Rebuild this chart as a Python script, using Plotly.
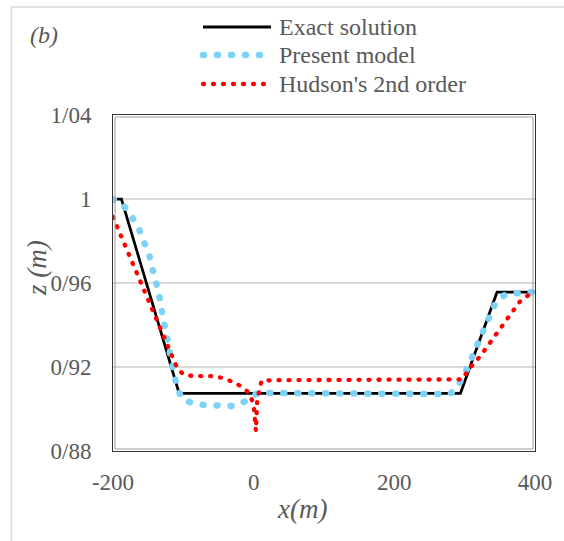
import plotly.graph_objects as go

# ---------------- data ----------------
x_exact = [-200, -188, -106, 294, 346, 400]
z_exact = [1.0, 1.0, 0.9075, 0.9075, 0.9556, 0.9556]

x_present = [-200, -184.4, -173.0, -163.0, -155.9, -148.8, -144.5, -138.9, -134.6,
             -131.8, -127.5, -123.3, -120.4, -117.5, -113.3, -109.0, -101.9, -84.8,
             -66.4, -47.9, -28.0, -10.9, 3.3, 23.2, 279, 289, 297.6, 306.2, 313.3,
             320.4, 327.5, 336.0, 344.6, 358.8, 375.8, 400]
z_present = [1.000, 0.9967, 0.9914, 0.9857, 0.9795, 0.9738, 0.9676, 0.9614, 0.9548,
             0.9486, 0.9424, 0.9357, 0.9295, 0.9233, 0.9171, 0.9105, 0.9048, 0.9024,
             0.9019, 0.9019, 0.9014, 0.9038, 0.9071, 0.9076, 0.9071, 0.9100, 0.9152,
             0.9210, 0.9271, 0.9329, 0.9390, 0.9452, 0.9510, 0.9548, 0.9552, 0.9557]

x_hudson = [-200, -108, -98.6, -85.3, -57.8, -44.6, -31.8, -19.4, -9.0, -2.4, 0.5, 3.2,
            5.1, 7.6, 11.3, 24.6, 290, 297, 305, 322, 346, 378, 393, 400]
z_hudson = [0.9914, 0.9189, 0.9162, 0.9157, 0.9156, 0.9148, 0.9132, 0.9111, 0.9084,
            0.9043, 0.8999, 0.8895, 0.9046, 0.9090, 0.9135, 0.9137, 0.9137, 0.9141,
            0.9186, 0.9251, 0.9362, 0.9510, 0.9548, 0.9557]

series_names = ["Exact solution", "Present model", "Hudson's 2nd order"]

x_ticks = [-200, 0, 200, 400]
x_ticktext = ["-200", "0", "200", "400"]
y_ticks = [0.88, 0.92, 0.96, 1.0, 1.04]
y_ticktext = ["0/88", "0/92", "0/96", "1", "1/04"]

panel_label = "(b)"
x_title = "x(m)"
y_title = "z (m)"

# ---------------- styles ----------------
FONT = "Liberation Serif"
TXT = "#595959"
BLACK = "#000000"
BLUE = "#7dd3f7"
RED = "#ff0000"
BLUE_DASH = "1px,13px"
RED_DASH = "1px,9px"

W, H = 564, 541
ML, MR, MT, MB = 113, 29, 115, 90
PW, PH = W - ML - MR, H - MT - MB


def px2paper_x(px):
    return (px - ML) / PW


def px2paper_y(py):
    return (H - MB - py) / PH


fig = go.Figure()
fig.add_trace(go.Scatter(x=x_exact, y=z_exact, mode="lines", name=series_names[0],
                         line=dict(color=BLACK, width=2.75), showlegend=False))
fig.add_trace(go.Scatter(x=x_present, y=z_present, mode="lines", name=series_names[1],
                         line=dict(color=BLUE, width=6.5, dash=BLUE_DASH), showlegend=False))
fig.add_trace(go.Scatter(x=x_hudson, y=z_hudson, mode="lines", name=series_names[2],
                         line=dict(color=RED, width=4.3, dash=RED_DASH), showlegend=False))

shapes = []
annotations = []

# outer chart border (light gray), extends beyond the image right/bottom
shapes.append(dict(type="rect", xref="paper", yref="paper",
                   x0=px2paper_x(11.5), x1=px2paper_x(575), y0=px2paper_y(560), y1=px2paper_y(7),
                   line=dict(color="#d9d9d9", width=1.5), layer="below"))
# inner frame line (double border look)
shapes.append(dict(type="rect", xref="paper", yref="paper",
                   x0=px2paper_x(ML + 2), x1=px2paper_x(W - MR - 2),
                   y0=px2paper_y(H - MB - 2), y1=px2paper_y(MT + 2),
                   line=dict(color="#9a9a9a", width=1), layer="above"))

# manual legend
leg_y = [27, 55, 84]
leg_styles = [dict(color=BLACK, width=3),
              dict(color=BLUE, width=6.5, dash=BLUE_DASH),
              dict(color=RED, width=4.3, dash=RED_DASH)]
for name, yy, st in zip(series_names, leg_y, leg_styles):
    shapes.append(dict(type="line", xref="paper", yref="paper",
                       x0=px2paper_x(203), x1=px2paper_x(271),
                       y0=px2paper_y(yy), y1=px2paper_y(yy), line=st))
    annotations.append(dict(text=name, xref="paper", yref="paper",
                            x=px2paper_x(277), y=px2paper_y(yy), xanchor="left", yanchor="middle",
                            showarrow=False, font=dict(family=FONT, size=24, color=TXT)))

annotations.append(dict(text="<i>" + panel_label + "</i>", xref="paper", yref="paper",
                        x=px2paper_x(28), y=px2paper_y(35), xanchor="left", yanchor="middle",
                        showarrow=False, font=dict(family=FONT, size=24, color=TXT)))
annotations.append(dict(text="<i>" + x_title + "</i>", xref="paper", yref="paper",
                        x=px2paper_x(302), y=px2paper_y(509), xanchor="center", yanchor="middle",
                        showarrow=False, font=dict(family=FONT, size=27, color=TXT)))
annotations.append(dict(text="<i>" + y_title + "</i>", xref="paper", yref="paper",
                        x=px2paper_x(37), y=px2paper_y(268), xanchor="center", yanchor="middle",
                        textangle=-90, showarrow=False,
                        font=dict(family=FONT, size=27, color=TXT)))

fig.update_layout(
    width=W, height=H,
    margin=dict(l=ML, r=MR, t=MT, b=MB, pad=0),
    paper_bgcolor="white", plot_bgcolor="white",
    showlegend=False,
    font=dict(family=FONT, size=23, color=TXT),
    shapes=shapes, annotations=annotations,
    xaxis=dict(range=[-200, 400], tickvals=x_ticks, ticktext=x_ticktext,
               showgrid=False, zeroline=False, showline=True, mirror=True,
               linecolor="#333333", linewidth=1, ticks="", ticklabelstandoff=10,
               tickfont=dict(family=FONT, size=23, color=TXT)),
    yaxis=dict(range=[0.88, 1.04], tickvals=y_ticks, ticktext=y_ticktext,
               showgrid=True, gridcolor="#d9d9d9", gridwidth=1.5, zeroline=False,
               showline=True, mirror=True, linecolor="#333333", linewidth=1,
               ticks="", ticklabelstandoff=16,
               tickfont=dict(family=FONT, size=23, color=TXT)),
)

post = """
(function(){
  var gd = document.getElementById('{plot_id}');
  function roundCaps(){
    gd.querySelectorAll('path').forEach(function(p){
      var d = p.style.strokeDasharray;
      if (d && d !== 'none' && d !== '') { p.style.strokeLinecap = 'round'; }
    });
  }
  roundCaps();
  gd.on && gd.on('plotly_afterplot', roundCaps);
})();
"""

fig.write_html("out.html", post_script=post)
